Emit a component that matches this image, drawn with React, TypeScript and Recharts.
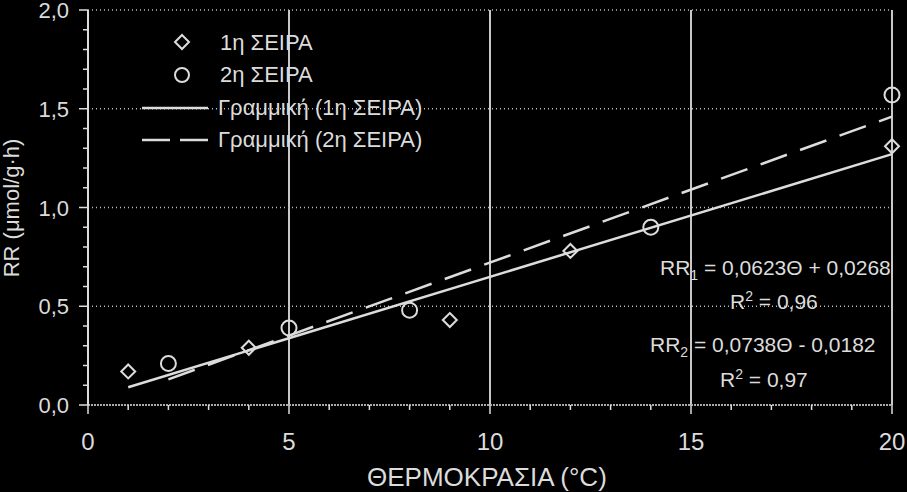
import {
  ComposedChart,
  Scatter,
  Line,
  XAxis,
  YAxis,
  ReferenceLine,
} from "recharts";

// 1η ΣΕΙΡΑ (diamonds)
const series1X = [1, 4, 9, 12, 20];
const series1Y = [0.17, 0.29, 0.43, 0.78, 1.31];
// 2η ΣΕΙΡΑ (circles)
const series2X = [2, 5, 8, 14, 20];
const series2Y = [0.21, 0.39, 0.48, 0.9, 1.57];
// linear trend line end points
const trend1X = [1, 20];
const trend1Y = [0.09, 1.27];
const trend2X = [2, 20];
const trend2Y = [0.13, 1.46];

const xTicks = Array.from({ length: 21 }, (_, i) => i);
const yTicks = Array.from({ length: 21 }, (_, i) => i / 10);
const xGrid = [5, 10, 15, 20];
const yGrid = [0.5, 1, 1.5, 2];

const FG = "#dcdcdc";
const FONT = "'Liberation Sans', Arial, sans-serif";

const toPts = (xs: number[], ys: number[]) => xs.map((x, i) => ({ x, y: ys[i] }));

const Diamond = (props: any) => {
  const { cx, cy } = props;
  const r = 7;
  return (
    <polygon
      points={`${cx},${cy - r} ${cx + r},${cy} ${cx},${cy + r} ${cx - r},${cy}`}
      fill="none"
      stroke={FG}
      strokeWidth={2}
    />
  );
};

const Circle = (props: any) => {
  const { cx, cy } = props;
  return <circle cx={cx} cy={cy} r={7.5} fill="none" stroke={FG} strokeWidth={2} />;
};

const XTick = (props: any) => {
  const { x, y, payload } = props;
  const major = payload.value % 5 === 0;
  return (
    <g>
      <line x1={x} y1={y} x2={x} y2={y + (major ? 9 : 5)} stroke={FG} strokeWidth={1.5} />
      {major && (
        <text x={x} y={y + 45} textAnchor="middle" fill={FG} fontSize={24} fontFamily={FONT}>
          {payload.value}
        </text>
      )}
    </g>
  );
};

const YTick = (props: any) => {
  const { x, y, payload } = props;
  const v = Math.round(payload.value * 10);
  const major = v % 5 === 0;
  return (
    <g>
      <line x1={x} y1={y} x2={x - (major ? 9 : 5)} y2={y} stroke={FG} strokeWidth={1.5} />
      {major && (
        <text x={x - 19} y={y + 8} textAnchor="end" fill={FG} fontSize={22} fontFamily={FONT}>
          {(v / 10).toFixed(1).replace(".", ",")}
        </text>
      )}
    </g>
  );
};

// absolute text box, vertically centred on cy
const textStyle = (left: number, cy: number, extra: any = {}) => ({
  position: "absolute" as const,
  left,
  top: cy - 13,
  height: 26,
  color: FG,
  fontFamily: FONT,
  fontSize: 22,
  whiteSpace: "nowrap" as const,
  lineHeight: "26px",
  ...extra,
});

const small = { fontSize: 14, lineHeight: 0 };
const eq = { fontSize: 21 };

export default function App() {
  return (
    <div
      style={{
        position: "fixed",
        left: 0,
        top: 0,
        width: 907,
        height: 492,
        background: "#000",
        overflow: "hidden",
      }}
    >
      <ComposedChart
        width={907}
        height={492}
        margin={{ top: 10, right: 15, bottom: 0, left: 0 }}
      >
        <XAxis
          dataKey="x"
          type="number"
          domain={[0, 20]}
          ticks={xTicks}
          interval={0}
          height={87}
          tickLine={false}
          tickSize={0}
          tickMargin={0}
          axisLine={{ stroke: "#aaa", strokeWidth: 2, strokeDasharray: "2 1" }}
          tick={<XTick />}
        />
        <YAxis
          type="number"
          domain={[0, 2]}
          ticks={yTicks}
          interval={0}
          width={88}
          tickLine={false}
          tickSize={0}
          tickMargin={0}
          axisLine={{ stroke: FG, strokeWidth: 2 }}
          tick={<YTick />}
        />
        {xGrid.map((v) => (
          <ReferenceLine key={"x" + v} x={v} stroke="#c8c8c8" strokeWidth={2} />
        ))}
        {yGrid.map((v) => (
          <ReferenceLine key={"y" + v} y={v} stroke="#bbb" strokeWidth={1.5} strokeDasharray="1 3" />
        ))}
        <Line
          data={toPts(trend1X, trend1Y)}
          dataKey="y"
          stroke={FG}
          strokeWidth={2.5}
          dot={false}
          isAnimationActive={false}
        />
        <Line
          data={toPts(trend2X, trend2Y)}
          dataKey="y"
          stroke={FG}
          strokeWidth={2.5}
          strokeDasharray="28 14"
          dot={false}
          isAnimationActive={false}
        />
        <Scatter data={toPts(series1X, series1Y)} dataKey="y" shape={<Diamond />} isAnimationActive={false} />
        <Scatter data={toPts(series2X, series2Y)} dataKey="y" shape={<Circle />} isAnimationActive={false} />
      </ComposedChart>

      {/* legend */}
      <svg style={{ position: "absolute", left: 0, top: 0 }} width={907} height={492} pointerEvents="none">
        <polygon points="182,35 189,42 182,49 175,42" fill="none" stroke={FG} strokeWidth={2} />
        <circle cx={182} cy={75} r={7} fill="none" stroke={FG} strokeWidth={2} />
        <line x1={142} y1={108} x2={208} y2={108} stroke={FG} strokeWidth={2.5} />
        <line x1={142} y1={140} x2={208} y2={140} stroke={FG} strokeWidth={2.5} strokeDasharray="28 10" />
      </svg>
      <div style={textStyle(220, 43)}>1η ΣΕΙΡΑ</div>
      <div style={textStyle(220, 75)}>2η ΣΕΙΡΑ</div>
      <div style={textStyle(218, 108)}>Γραμμική (1η ΣΕΙΡΑ)</div>
      <div style={textStyle(218, 140)}>Γραμμική (2η ΣΕΙΡΑ)</div>

      {/* equations */}
      <div style={textStyle(660, 268, eq)}>
        RR<sub style={small}>1</sub> = 0,0623Θ + 0,0268
      </div>
      <div style={textStyle(730, 302, eq)}>
        R<sup style={small}>2</sup> = 0,96
      </div>
      <div style={textStyle(650, 345, eq)}>
        RR<sub style={small}>2</sub> = 0,0738Θ - 0,0182
      </div>
      <div style={textStyle(720, 380, eq)}>
        R<sup style={small}>2</sup> = 0,97
      </div>

      {/* axis titles */}
      <div style={textStyle(367, 477, { fontSize: 26, top: 462, height: 30, lineHeight: "30px" })}>
        ΘΕΡΜΟΚΡΑΣΙΑ (°C)
      </div>
      <div
        style={textStyle(12, 208, {
          fontSize: 22,
          transform: "translate(-50%, 0) rotate(-90deg)",
        })}
      >
        RR (μmol/g·h)
      </div>
    </div>
  );
}
